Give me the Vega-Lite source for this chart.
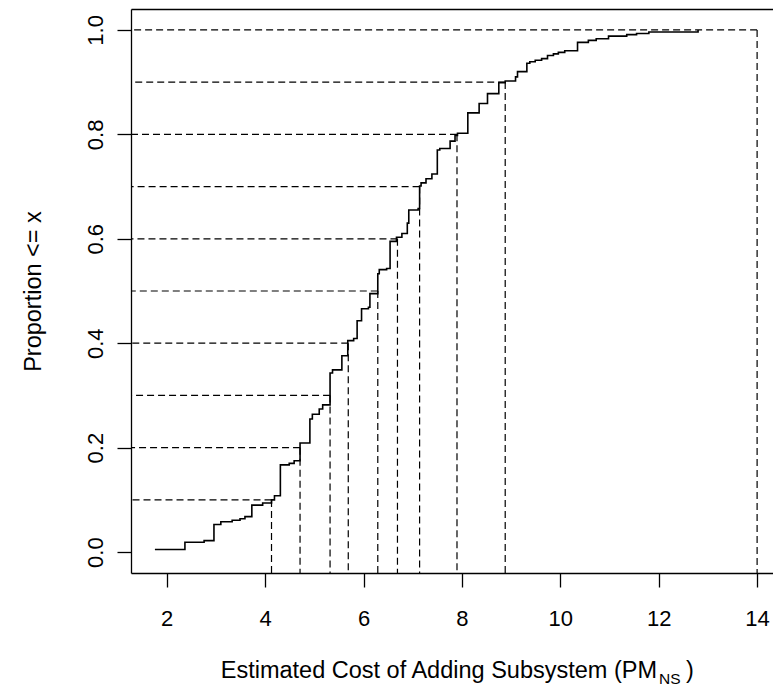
{
  "$schema": "https://vega.github.io/schema/vega-lite/v6.json",
  "autosize": "none",
  "padding": {"left": 131, "top": 9, "right": 0, "bottom": 113},
  "width": 642,
  "height": 564,
  "background": "white",
  "config": {
    "view": {"stroke": null},
    "font": "Liberation Sans",
    "axis": {
      "domainColor": "black",
      "domainWidth": 1.3,
      "tickColor": "black",
      "tickWidth": 1.3,
      "tickSize": 14,
      "labelColor": "black",
      "labelFont": "Liberation Sans",
      "titleFont": "Liberation Sans",
      "titleFontWeight": "normal",
      "titleColor": "black",
      "grid": false
    }
  },
  "datasets": {
    "ecdf": [
      {"x": 1.76, "p": 0.005}, {"x": 2.37, "p": 0.019}, {"x": 2.76, "p": 0.022}, {"x": 2.96, "p": 0.053},
      {"x": 3.10, "p": 0.058}, {"x": 3.33, "p": 0.061}, {"x": 3.49, "p": 0.064}, {"x": 3.59, "p": 0.068},
      {"x": 3.73, "p": 0.090}, {"x": 3.95, "p": 0.094}, {"x": 4.13, "p": 0.100}, {"x": 4.19, "p": 0.108},
      {"x": 4.31, "p": 0.167}, {"x": 4.49, "p": 0.170}, {"x": 4.59, "p": 0.175}, {"x": 4.71, "p": 0.209},
      {"x": 4.91, "p": 0.255}, {"x": 4.96, "p": 0.264}, {"x": 5.10, "p": 0.274}, {"x": 5.17, "p": 0.282},
      {"x": 5.32, "p": 0.343}, {"x": 5.37, "p": 0.349}, {"x": 5.56, "p": 0.376}, {"x": 5.68, "p": 0.405},
      {"x": 5.80, "p": 0.409}, {"x": 5.87, "p": 0.443}, {"x": 5.96, "p": 0.466}, {"x": 6.10, "p": 0.469},
      {"x": 6.13, "p": 0.495}, {"x": 6.29, "p": 0.533}, {"x": 6.32, "p": 0.541}, {"x": 6.47, "p": 0.543},
      {"x": 6.54, "p": 0.595}, {"x": 6.67, "p": 0.603}, {"x": 6.78, "p": 0.610}, {"x": 6.89, "p": 0.630},
      {"x": 6.92, "p": 0.655}, {"x": 7.11, "p": 0.658}, {"x": 7.14, "p": 0.701}, {"x": 7.17, "p": 0.707},
      {"x": 7.27, "p": 0.715}, {"x": 7.39, "p": 0.724}, {"x": 7.50, "p": 0.770}, {"x": 7.55, "p": 0.773},
      {"x": 7.76, "p": 0.787}, {"x": 7.86, "p": 0.798}, {"x": 7.91, "p": 0.802}, {"x": 8.12, "p": 0.841},
      {"x": 8.35, "p": 0.859}, {"x": 8.52, "p": 0.878}, {"x": 8.75, "p": 0.899}, {"x": 8.88, "p": 0.902},
      {"x": 9.09, "p": 0.910}, {"x": 9.13, "p": 0.920}, {"x": 9.32, "p": 0.936}, {"x": 9.38, "p": 0.939},
      {"x": 9.49, "p": 0.942}, {"x": 9.62, "p": 0.945}, {"x": 9.74, "p": 0.951}, {"x": 9.86, "p": 0.954},
      {"x": 9.96, "p": 0.957}, {"x": 10.09, "p": 0.960}, {"x": 10.35, "p": 0.976}, {"x": 10.57, "p": 0.980},
      {"x": 10.73, "p": 0.983}, {"x": 10.98, "p": 0.988}, {"x": 11.35, "p": 0.991}, {"x": 11.55, "p": 0.993},
      {"x": 11.80, "p": 0.996}, {"x": 12.80, "p": 1.0}
    ],
    "dec": [
      {"q": 4.13, "p": 0.1}, {"q": 4.71, "p": 0.2}, {"q": 5.32, "p": 0.3}, {"q": 5.69, "p": 0.4},
      {"q": 6.29, "p": 0.5}, {"q": 6.69, "p": 0.6}, {"q": 7.14, "p": 0.7}, {"q": 7.90, "p": 0.8},
      {"q": 8.88, "p": 0.9}, {"q": 14.0, "p": 1.0}
    ]
  },
  "layer": [
    {
      "data": {"name": "ecdf"},
      "mark": {"type": "line", "interpolate": "step-after", "color": "black", "strokeWidth": 1.6, "clip": true},
      "encoding": {
        "x": {
          "field": "x",
          "type": "quantitative",
          "scale": {"domain": [1.274, 14.323], "nice": false, "zero": false},
          "axis": {
            "orient": "bottom",
            "values": [2, 4, 6, 8, 10, 12, 14],
            "labelFontSize": 22,
            "labelPadding": 21,
            "labelAngle": 0,
            "title": null
          }
        },
        "y": {
          "field": "p",
          "type": "quantitative",
          "scale": {"domain": [-0.04, 1.04], "nice": false, "zero": false},
          "axis": {
            "values": [0, 0.2, 0.4, 0.6, 0.8, 1.0],
            "format": ".1f",
            "labelFontSize": 22,
            "labelAngle": -90,
            "labelAlign": "center",
            "labelBaseline": "middle",
            "labelPadding": 22,
            "title": "Proportion <= x",
            "titleFontSize": 23.5,
            "titleAngle": -90,
            "titleX": -98,
            "titleY": 282,
            "titleAlign": "center",
            "titleBaseline": "middle"
          }
        }
      }
    },
    {
      "data": {"name": "dec"},
      "mark": {"type": "rule", "color": "black", "strokeWidth": 1.2, "strokeDash": [7, 4], "clip": true},
      "encoding": {
        "x": {"field": "q", "type": "quantitative", "axis": {"orient": "top", "labels": false, "ticks": false, "title": null, "domain": true}},
        "y": {"field": "p", "type": "quantitative", "axis": null},
        "x2": {"datum": 0}
      }
    },
    {
      "data": {"name": "dec"},
      "mark": {"type": "rule", "color": "black", "strokeWidth": 1.2, "strokeDash": [7, 4], "clip": true},
      "encoding": {
        "x": {"field": "q", "type": "quantitative", "axis": null},
        "y": {"field": "p", "type": "quantitative", "axis": null},
        "y2": {"datum": -0.1}
      }
    },
    {
      "data": {"values": [{"t": "Estimated Cost of Adding Subsystem (PM"}]},
      "mark": {"type": "text", "align": "right", "baseline": "alphabetic", "fontSize": 23.5, "font": "Liberation Sans", "color": "black", "dy": 105, "clip": false},
      "encoding": {
        "x": {"datum": 11.965, "type": "quantitative", "axis": null},
        "y": {"datum": -0.04, "type": "quantitative", "axis": null},
        "text": {"field": "t"}
      }
    },
    {
      "data": {"values": [{"t": "NS"}]},
      "mark": {"type": "text", "align": "left", "baseline": "alphabetic", "fontSize": 15.5, "font": "Liberation Sans", "color": "black", "dx": 2, "dy": 111, "clip": false},
      "encoding": {
        "x": {"datum": 11.965, "type": "quantitative", "axis": null},
        "y": {"datum": -0.04, "type": "quantitative", "axis": null},
        "text": {"field": "t"}
      }
    },
    {
      "data": {"values": [{"t": ")"}]},
      "mark": {"type": "text", "align": "left", "baseline": "alphabetic", "fontSize": 23.5, "font": "Liberation Sans", "color": "black", "dx": 29, "dy": 105, "clip": false},
      "encoding": {
        "x": {"datum": 11.965, "type": "quantitative", "axis": null},
        "y": {"datum": -0.04, "type": "quantitative", "axis": null},
        "text": {"field": "t"}
      }
    }
  ],
  "resolve": {"axis": {"x": "independent", "y": "independent"}}
}
